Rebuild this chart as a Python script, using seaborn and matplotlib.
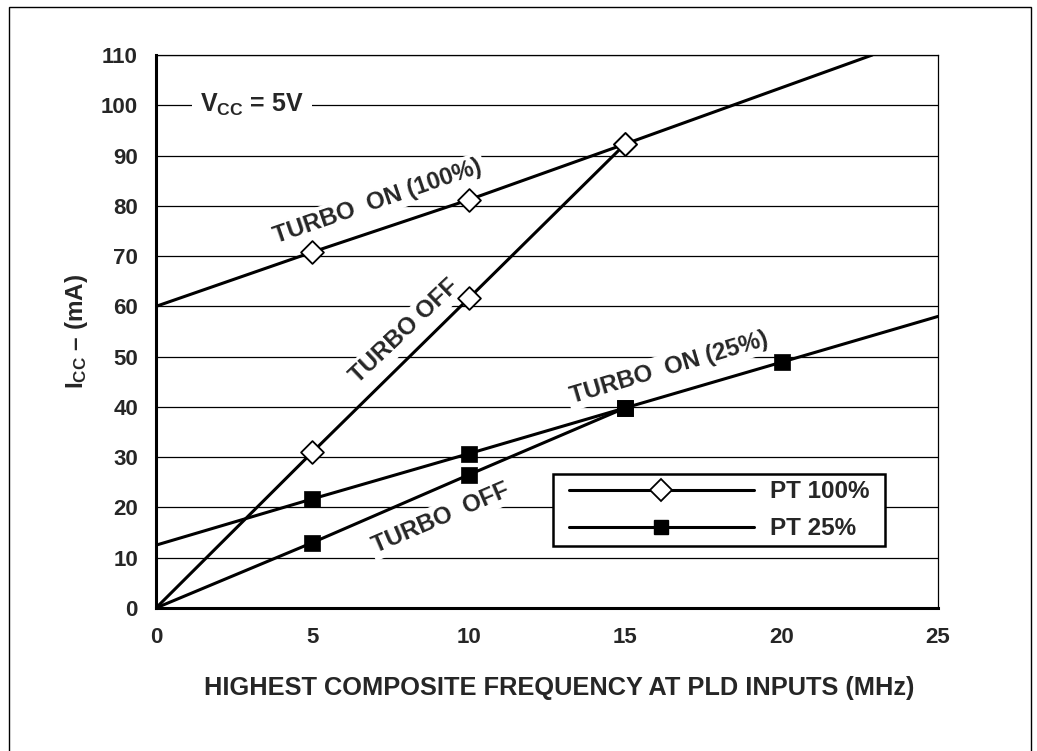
import matplotlib
matplotlib.use("Agg")
import matplotlib.pyplot as plt
from matplotlib.lines import Line2D
from matplotlib.patches import Rectangle
import numpy as np
import pandas as pd
import seaborn as sns

# ---------------- data ----------------
freq_pt100_on = [0, 5, 10, 15, 22.9]
icc_pt100_on = [60, 70.8, 81.2, 92.3, 110]
freq_pt100_off = [0, 5, 10, 15]
icc_pt100_off = [0, 31, 61.6, 92.3]
freq_pt25_on = [0, 5, 10, 15, 20, 25]
icc_pt25_on = [12.5, 21.7, 30.7, 39.8, 48.9, 58]
freq_pt25_off = [0, 5, 10, 15]
icc_pt25_off = [0, 13, 26.5, 39.8]
marker_freqs = [5, 10, 15, 20]

x_ticks = [0, 5, 10, 15, 20, 25]
y_ticks = [0, 10, 20, 30, 40, 50, 60, 70, 80, 90, 100, 110]
legend_labels = ["PT 100%", "PT 25%"]
x_label = "HIGHEST COMPOSITE FREQUENCY AT PLD INPUTS (MHz)"
y_label = "I$_{CC}$ – (mA)"
vcc_label = "V$_{CC}$ = 5V"

# ---------------- style ----------------
sns.set_style("white")
plt.rcParams["font.family"] = ["Liberation Sans", "DejaVu Sans"]
plt.rcParams["font.weight"] = "bold"
plt.rcParams["mathtext.fontset"] = "custom"
plt.rcParams["mathtext.rm"] = "Liberation Sans:bold"
plt.rcParams["mathtext.it"] = "Liberation Sans:bold"
plt.rcParams["mathtext.bf"] = "Liberation Sans:bold"
plt.rcParams["mathtext.default"] = "rm"

FS_TICK = 16
FS_LAB = 17.3
LW = 2.2

fig = plt.figure(figsize=(10.37, 7.51), dpi=100)
ax = fig.add_axes([0.15043, 0.19041, 0.75410, 0.73635])

def curve_df(fx, fy):
    return pd.DataFrame({"f": fx, "i": fy})

curves = [
    (freq_pt100_on, icc_pt100_on, "D"),
    (freq_pt100_off, icc_pt100_off, "D"),
    (freq_pt25_on, icc_pt25_on, "s"),
    (freq_pt25_off, icc_pt25_off, "s"),
]

for fx, fy, mk in curves:
    df = curve_df(fx, fy)
    sns.lineplot(data=df, x="f", y="i", ax=ax, color="black", lw=LW,
                 sort=False, estimator=None, zorder=3)
for fx, fy, mk in curves:
    df = curve_df(fx, fy)
    dm = df[df["f"].isin(marker_freqs)]
    if mk == "D":
        sns.scatterplot(data=dm, x="f", y="i", ax=ax, marker="D", s=135,
                        facecolor="white", edgecolor="black", linewidth=1.3,
                        zorder=4)
    else:
        sns.scatterplot(data=dm, x="f", y="i", ax=ax, marker="s", s=125,
                        color="black", edgecolor="black", linewidth=0.5,
                        zorder=4)

ax.set_xlim(0, 25)
ax.set_ylim(0, 110)
ax.set_xticks(x_ticks)
ax.set_yticks(y_ticks)
ax.set_xticklabels([str(v) for v in x_ticks], fontsize=FS_TICK, fontweight="bold")
ax.set_yticklabels([str(v) for v in y_ticks], fontsize=FS_TICK, fontweight="bold")
ax.tick_params(axis="x", direction="in", length=22, width=0.9, color="black", pad=14)
ax.tick_params(axis="y", length=0, pad=13)

ax.yaxis.grid(True, color="black", lw=0.9)
ax.xaxis.grid(False)
ax.set_axisbelow(True)

for side in ["left", "bottom"]:
    ax.spines[side].set_linewidth(LW)
    ax.spines[side].set_color("black")
for side in ["right", "top"]:
    ax.spines[side].set_linewidth(0.9)
    ax.spines[side].set_color("black")
ax.spines["left"].set_zorder(5)
ax.spines["bottom"].set_zorder(5)

ax.set_xlabel(x_label, fontsize=18.3, fontweight="bold", labelpad=20)
ax.xaxis.label.set_x(0.5153)
ax.set_ylabel(y_label, fontsize=17.5, fontweight="bold", labelpad=8)

bbox = dict(facecolor="white", edgecolor="none", pad=2)
ax.text(3.07, 100, vcc_label, fontsize=18, fontweight="bold", ha="center",
        va="center", bbox=dict(facecolor="white", edgecolor="none", pad=6), zorder=2)
ax.text(7.1, 80.9, "TURBO  ON (100%)", fontsize=FS_LAB, fontweight="bold",
        ha="center", va="center", rotation=19.0, rotation_mode="anchor",
        bbox=bbox, zorder=2)
ax.text(7.95, 55.0, "TURBO OFF", fontsize=FS_LAB, fontweight="bold",
        ha="center", va="center", rotation=43.5, rotation_mode="anchor",
        bbox=bbox, zorder=2)
ax.text(16.4, 47.8, "TURBO  ON (25%)", fontsize=FS_LAB, fontweight="bold",
        ha="center", va="center", rotation=16.5, rotation_mode="anchor",
        bbox=bbox, zorder=2)
ax.text(9.1, 17.9, "TURBO  OFF", fontsize=FS_LAB, fontweight="bold",
        ha="center", va="center", rotation=23.2, rotation_mode="anchor",
        bbox=bbox, zorder=2)

# legend box (frame drawn separately so its padding matches the reference)
box_x0, box_y0, box_x1, box_y1 = 0.508, 0.112, 0.932, 0.242
ax.add_patch(Rectangle((box_x0, box_y0), box_x1 - box_x0, box_y1 - box_y0,
                       transform=ax.transAxes, facecolor="white",
                       edgecolor="black", lw=1.8, zorder=5.5))
handles = [
    Line2D([0], [0], color="black", lw=2.2, marker="D", markersize=11,
           markerfacecolor="white", markeredgecolor="black", markeredgewidth=1.3),
    Line2D([0], [0], color="black", lw=2.2, marker="s", markersize=10.5,
           markerfacecolor="black", markeredgecolor="black"),
]
leg = ax.legend(handles, legend_labels, loc="center",
                bbox_to_anchor=((box_x0 + box_x1) / 2, (box_y0 + box_y1) / 2),
                prop={"size": 17.5, "weight": "bold"},
                handlelength=7.6, handletextpad=0.65, labelspacing=0.58,
                borderpad=0.0, borderaxespad=0, frameon=False)
leg.set_zorder(6)

fig.patches.append(Rectangle((9 / 1037, -0.05), (1031 - 9) / 1037, 1 - 7 / 751 + 0.05,
                             transform=fig.transFigure, fill=False, lw=1.0,
                             edgecolor="black"))

fig.savefig("out.png", dpi=100)
